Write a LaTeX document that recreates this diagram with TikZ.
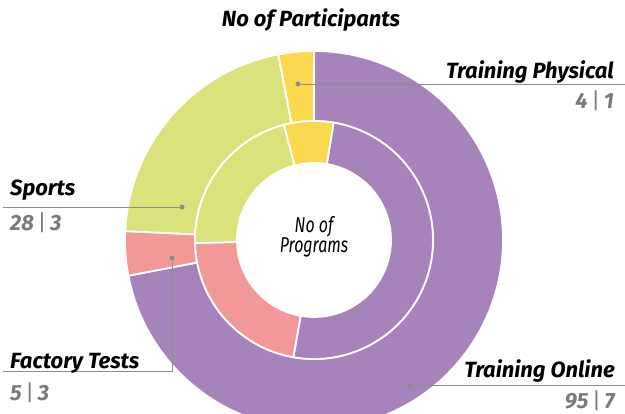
\documentclass[tikz,border=0pt]{standalone}
\usepackage{fontspec}
\setmainfont{Fira Sans}
\newfontfamily\narrowfont[FakeStretch=0.74]{Fira Sans}
\usetikzlibrary {calc}

\definecolor{onlinecol}{HTML}{A783BC}
\definecolor{physcol}{HTML}{FAD94E}
\definecolor{sportscol}{HTML}{DCE27B}
\definecolor{factcol}{HTML}{F29898}
\definecolor{leadgray}{HTML}{8C8C8C}
\definecolor{numgray}{HTML}{7A7A7A}

% ring piece: inner radius, outer radius, from angle, to angle, colour
\newcommand{\ringpart}[5]{%
  \path[seg, fill=#5] (#3:#2pt) arc[start angle=#3, end angle=#4, radius=#2pt]
    -- (#4:#1pt) arc[start angle=#4, end angle=#3, radius=#1pt] -- cycle;}
\newcommand{\numsep}{{\mdseries\upshape\,|\,}}

\tikzset{
  seg/.style={draw=white, line width=1.8pt, line join=round},
  lead/.style={draw=leadgray, line width=0.9pt},
  dot/.style={circle, fill=leadgray, inner sep=0pt, minimum size=5pt},
  lbl/.style={font=\fontsize{22}{22}\selectfont\bfseries\itshape, inner sep=0pt},
  num/.style={lbl, text=numgray}
}

\begin{document}
\begin{tikzpicture}[x=1pt, y=1pt]
  	\useasboundingbox (0,0) rectangle (625,414);
  	\clip (0,0) rectangle (625,414);

  	\begin{scope}[shift={(314,174)}]
    	% outer ring: participants
    	\ringpart{119}{189}{190.9}{450}{onlinecol}
    	\ringpart{119}{189}{177.3}{190.9}{factcol}
    	\ringpart{119}{189}{100.9}{177.3}{sportscol}
    	\ringpart{119}{189}{90}{100.9}{physcol}
    	% inner ring: programs
    	\ringpart{77}{119}{260}{440.5}{onlinecol}
    	\ringpart{77}{119}{181.5}{260}{factcol}
    	\ringpart{77}{119}{104.6}{181.5}{sportscol}
    	\ringpart{77}{119}{80.5}{104.6}{physcol}
  	\end{scope}

  	\node[lbl, anchor=base] (title) at (311,387) {No of Participants};
  	\node[font=\fontsize{21.5}{18}\selectfont\narrowfont\itshape, align=center,
    		inner sep=0pt, anchor=base] (centre) at (314,161) {No of\\Programs};

  	\node[dot] (physdot) at (298,330) {};
  	\node[dot] (sportsdot) at (182,207) {};
  	\node[dot] (factdot) at (172,156) {};
  	\node[dot] (onlinedot) at (410,29) {};

  	\coordinate (physend) at (625,330);
  	\coordinate (sportsend) at (3,207);
  	\coordinate (factbend) at (172,43);
  	\coordinate (factend) at (3,43);
  	\coordinate (onlineend) at (625,29);

  	\draw[lead] (physdot) -- (physend);
  	\draw[lead] (sportsdot) -- (sportsend);
  	\draw[lead] (factdot) -- (factbend) -- (factend);
  	\draw[lead] (onlinedot) -- (onlineend);

  	\node[lbl, anchor=base east] (physname) at (614,335) {Training Physical};
  	\node[num, anchor=base east] (physnum) at (614,305) {4\numsep 1};
  	\node[lbl, anchor=base west] (sportsname) at (10,218) {Sports};
  	\node[num, anchor=base west] (sportsnum) at (10,183) {28\numsep 3};
  	\node[lbl, anchor=base west] (factname) at (10,45) {Factory Tests};
  	\node[num, anchor=base west] (factnum) at (10,13) {5\numsep 3};
  	\node[lbl, anchor=base east] (onlinename) at (615,36) {Training Online};
  	\node[num, anchor=base east] (onlinenum) at (615,5) {95\numsep 7};
\end{tikzpicture}
\end{document}
